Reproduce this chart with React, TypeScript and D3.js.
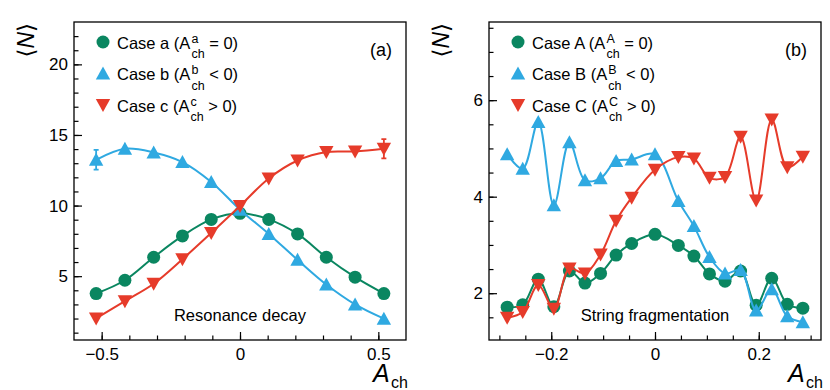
import { useEffect, useRef } from "react";
import * as d3 from "d3";

// ---- panel (a): resonance decay ----
const achA = [-0.52, -0.416, -0.312, -0.208, -0.104, 0, 0.104, 0.208, 0.312, 0.416, 0.52];
const caseAa = [3.77, 4.71, 6.34, 7.85, 9.02, 9.45, 9.02, 7.99, 6.34, 4.93, 3.77];
const caseAb = [13.24, 14.02, 13.76, 13.08, 11.67, 9.71, 7.99, 6.16, 4.41, 3.0, 1.99];
const caseAc = [2.01, 3.23, 4.46, 6.2, 8.06, 9.97, 11.92, 13.19, 13.79, 13.83, 14.02];
const errAb = [0.7, 0, 0, 0, 0, 0, 0, 0, 0, 0, 0];
const errAc = [0, 0, 0, 0, 0, 0, 0, 0, 0, 0, 0.68];
const yTicksA = [5, 10, 15, 20];
const yMinorA = d3.range(1, 24, 1);
const xTicksA = [-0.5, 0, 0.5];
const xMinorA = d3.range(-0.5, 0.51, 0.1);

// ---- panel (b): string fragmentation ----
const achB = [-0.285, -0.255, -0.225, -0.195, -0.165, -0.135, -0.105, -0.075, -0.045, 0,
  0.045, 0.075, 0.105, 0.135, 0.165, 0.195, 0.225, 0.255, 0.285];
const caseBa = [1.71, 1.76, 2.29, 1.72, 2.46, 2.21, 2.41, 2.79, 3.03, 3.22,
  2.99, 2.77, 2.4, 2.25, 2.46, 1.75, 2.31, 1.77, 1.69];
const caseBb = [4.88, 4.58, 5.55, 3.82, 5.13, 4.34, 4.38, 4.74, 4.77, 4.88,
  3.91, 3.39, 2.75, 2.41, 2.48, 1.64, 2.08, 1.52, 1.4];
const caseBc = [1.49, 1.61, 2.17, 1.68, 2.51, 2.41, 2.8, 3.5, 3.98, 4.56,
  4.82, 4.79, 4.39, 4.41, 5.24, 3.92, 5.6, 4.61, 4.83];
const yTicksB = [2, 4, 6];
const yMinorB = d3.range(1.5, 7.6, 0.5);
const xTicksB = [-0.2, 0, 0.2];
const xMinorB = d3.range(-0.3, 0.31, 0.05);

const GREEN = "#0a8660";
const BLUE = "#2fa9e1";
const RED = "#e63b2a";
const FONT = "'Liberation Sans', Arial, Helvetica, sans-serif";

const panels = [
  {
    left: 74, domX: [-0.6, 0.6], domY: [0.48, 23.0],
    x: achA, series: [caseAa, caseAb, caseAc], errs: [null, errAb, errAc],
    yTicks: yTicksA, yMinor: yMinorA, xTicks: xTicksA, xMinor: xMinorA,
    names: [["Case a (A", "a", " = 0)"], ["Case b (A", "b", " < 0)"], ["Case c (A", "c", " > 0)"]],
    tag: "(a)", note: "Resonance decay", fmt: (d) => (d === 0 ? "0" : d3.format("")(d)),
  },
  {
    left: 489, domX: [-0.32, 0.32], domY: [1.03, 7.62],
    x: achB, series: [caseBa, caseBb, caseBc], errs: [null, null, null],
    yTicks: yTicksB, yMinor: yMinorB, xTicks: xTicksB, xMinor: xMinorB,
    names: [["Case A (A", "A", " = 0)"], ["Case B (A", "B", " < 0)"], ["Case C (A", "C", " > 0)"]],
    tag: "(b)", note: "String fragmentation", fmt: (d) => (d === 0 ? "0" : d3.format("")(d)),
  },
];

const colors = [GREEN, BLUE, RED];
const top = 22;
const bottom = 340;
const frameW = 332;

function marker(g, kind, cx, cy, color) {
  if (kind === 0) {
    g.append("circle").attr("cx", cx).attr("cy", cy).attr("r", 6.5).attr("fill", color);
  } else if (kind === 1) {
    g.append("path")
      .attr("d", `M${cx},${cy - 7} L${cx + 7.2},${cy + 6} L${cx - 7.2},${cy + 6} Z`)
      .attr("fill", color);
  } else {
    g.append("path")
      .attr("d", `M${cx},${cy + 7} L${cx + 7.2},${cy - 6} L${cx - 7.2},${cy - 6} Z`)
      .attr("fill", color);
  }
}

export default function App() {
  const ref = useRef(null);

  useEffect(() => {
    d3.select(ref.current).selectAll("*").remove();
    const svg = d3
      .select(ref.current)
      .append("svg")
      .attr("width", 830)
      .attr("height", 390)
      .style("position", "absolute")
      .style("left", 0)
      .style("top", 0)
      .style("background", "#fff")
      .style("font-family", FONT);

    panels.forEach((p, pi) => {
      const off = pi * 415;
      const x = d3.scaleLinear().domain(p.domX).range([p.left, p.left + frameW]);
      const y = d3.scaleLinear().domain(p.domY).range([bottom, top]);
      const g = svg.append("g");

      // minor ticks (inside the frame)
      g.append("g")
        .attr("transform", `translate(${p.left},0)`)
        .call(d3.axisLeft(y).tickValues(p.yMinor.filter((v) => v > p.domY[0] && v < p.domY[1])).tickSize(-4.5).tickFormat(() => ""))
        .call((a) => a.select(".domain").remove());
      g.append("g")
        .attr("transform", `translate(0,${bottom})`)
        .call(d3.axisBottom(x).tickValues(p.xMinor).tickSize(-4.5).tickFormat(() => ""))
        .call((a) => a.select(".domain").remove());

      // major ticks + labels
      const ya = g.append("g")
        .attr("transform", `translate(${p.left},0)`)
        .call(d3.axisLeft(y).tickValues(p.yTicks).tickSize(-8).tickPadding(6).tickFormat(d3.format("")));
      ya.select(".domain").remove();
      ya.selectAll("text").attr("font-size", 17).attr("font-family", FONT).attr("fill", "#000");

      const xa = g.append("g")
        .attr("transform", `translate(0,${bottom})`)
        .call(d3.axisBottom(x).tickValues(p.xTicks).tickSize(-8).tickPadding(8).tickFormat(p.fmt));
      xa.select(".domain").remove();
      xa.selectAll("text").attr("font-size", 17).attr("font-family", FONT).attr("fill", "#000");
      g.selectAll(".tick line").attr("stroke", "#000").attr("stroke-width", 1.2);

      // data
      const line = d3
        .line()
        .x((d) => x(d[0]))
        .y((d) => y(d[1]))
        .curve(d3.curveCatmullRom.alpha(0.5));

      p.series.forEach((vals, si) => {
        const pts = vals.map((v, i) => [p.x[i], v]);
        g.append("path")
          .attr("d", line(pts))
          .attr("fill", "none")
          .attr("stroke", colors[si])
          .attr("stroke-width", 2);
        const errs = p.errs[si];
        if (errs) {
          errs.forEach((e, i) => {
            if (!e) return;
            const cx = x(p.x[i]);
            g.append("path")
              .attr("d", `M${cx},${y(vals[i] + e)} V${y(vals[i] - e)} M${cx - 2.5},${y(vals[i] + e)} H${cx + 2.5} M${cx - 2.5},${y(vals[i] - e)} H${cx + 2.5}`)
              .attr("stroke", colors[si])
              .attr("stroke-width", 1.8)
              .attr("fill", "none");
          });
        }
        pts.forEach((d) => marker(g, si, x(d[0]), y(d[1]), colors[si]));
      });

      // frame
      g.append("rect")
        .attr("x", p.left)
        .attr("y", top)
        .attr("width", frameW)
        .attr("height", bottom - top)
        .attr("fill", "none")
        .attr("stroke", "#000")
        .attr("stroke-width", 1.3);

      // legend
      p.names.forEach((n, i) => {
        const ry = 42 + i * 31.5;
        marker(g, i, off + 103, ry, colors[i]);
        const t = g.append("text")
          .attr("x", off + 117)
          .attr("y", ry + 6.5)
          .attr("font-size", 16.5)
          .text(n[0]);
        const w = t.node().getComputedTextLength();
        const sx = off + 117 + w + 1;
        const sup = g.append("text").attr("x", sx).attr("y", ry + 0.5).attr("font-size", 12.5).text(n[1]);
        const sub = g.append("text").attr("x", sx).attr("y", ry + 16).attr("font-size", 12.5).text("ch");
        const sw = Math.max(sup.node().getComputedTextLength(), sub.node().getComputedTextLength());
        g.append("text")
          .attr("x", sx + sw)
          .attr("y", ry + 6.5)
          .attr("font-size", 16.5)
          .attr("xml:space", "preserve")
          .style("white-space", "pre")
          .text(n[2]);
      });

      g.append("text")
        .attr("x", off + 392)
        .attr("y", 56)
        .attr("text-anchor", "end")
        .attr("font-size", 18)
        .text(p.tag);

      g.append("text")
        .attr("x", x(0))
        .attr("y", 321)
        .attr("text-anchor", "middle")
        .attr("font-size", 16.5)
        .text(p.note);

      // axis titles
      const yl = g.append("text")
        .attr("transform", `translate(${off + 34},${top + 1}) rotate(-90)`)
        .attr("text-anchor", "end")
        .attr("font-size", 23)
        .attr("font-family", "'DejaVu Sans', sans-serif");
      yl.append("tspan").text("\u27E8");
      yl.append("tspan").attr("font-style", "italic").attr("font-family", FONT).text("N");
      yl.append("tspan").text("\u27E9");

      g.append("text")
        .attr("x", off + 373)
        .attr("y", 382)
        .attr("font-size", 25)
        .attr("font-style", "italic")
        .text("A");
      g.append("text")
        .attr("x", off + 391)
        .attr("y", 388)
        .attr("font-size", 16)
        .text("ch");
    });
  }, []);

  return <div ref={ref}></div>;
}
